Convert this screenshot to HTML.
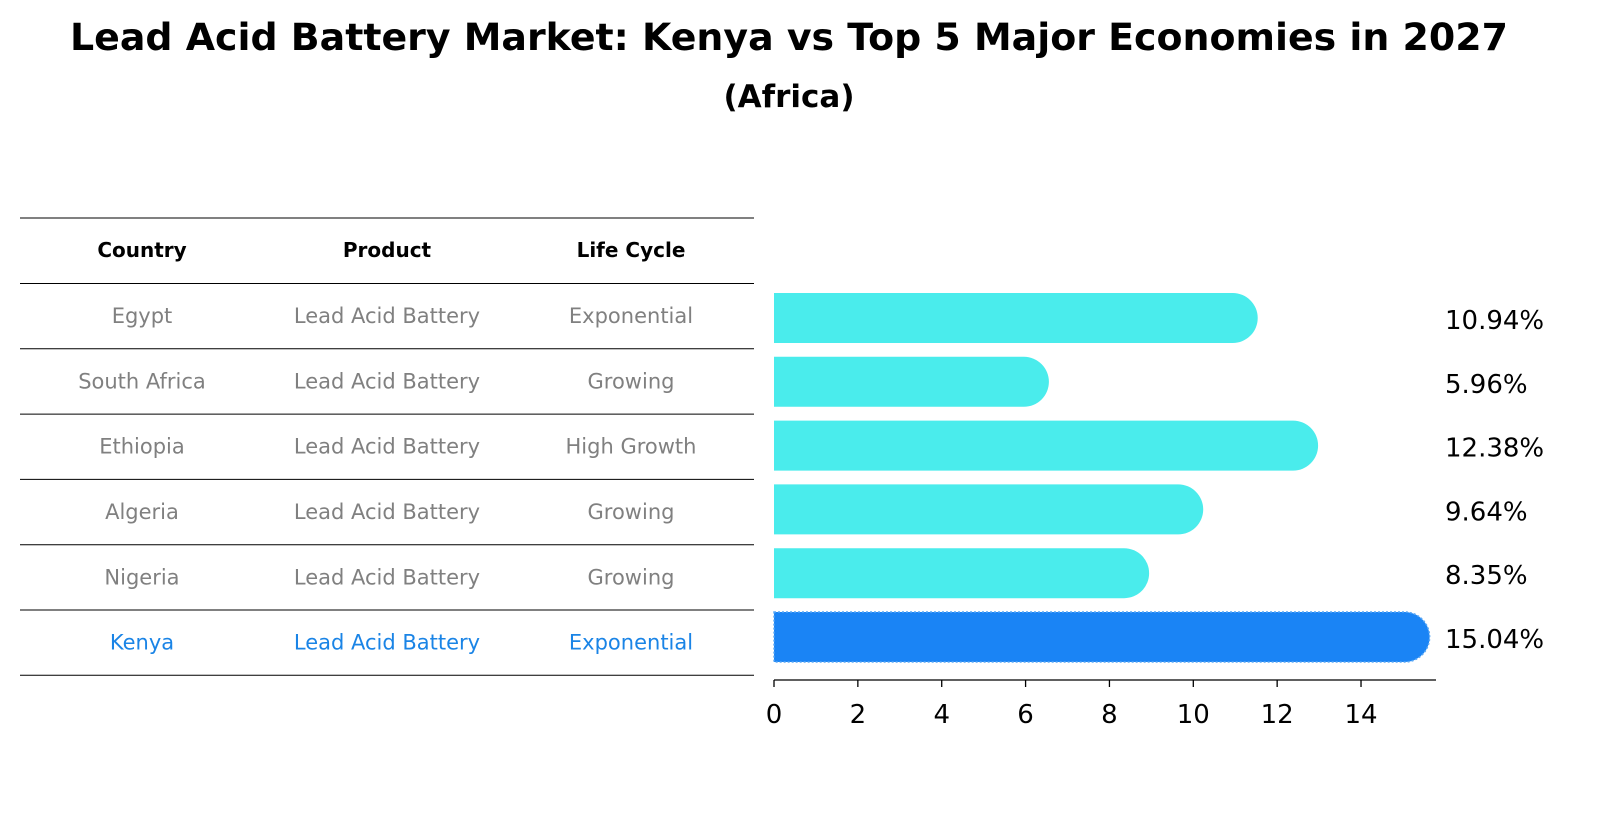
<!DOCTYPE html>
<html><head><meta charset="utf-8">
<style>
body{margin:0;background:#fff;font-family:"Liberation Sans","DejaVu Sans",sans-serif;}
#wrap{position:relative;width:1604px;height:823px;overflow:hidden;}
</style></head>
<body><div id="wrap">
<svg id="svg" width="1604" height="823" xmlns="http://www.w3.org/2000/svg" font-family="DejaVu Sans, Liberation Sans, sans-serif">
<text x="789" y="50" text-anchor="middle" font-size="37" font-weight="bold" textLength="1438" lengthAdjust="spacingAndGlyphs">Lead Acid Battery Market: Kenya vs Top 5 Major Economies in 2027</text>
<text x="789" y="107" text-anchor="middle" font-size="31" font-weight="bold">(Africa)</text>
<g id="table"></g>
<g id="bars"></g>
</svg>
</div>
<script>
const countries=["Egypt","South Africa","Ethiopia","Algeria","Nigeria","Kenya"];
const products=["Lead Acid Battery","Lead Acid Battery","Lead Acid Battery","Lead Acid Battery","Lead Acid Battery","Lead Acid Battery"];
const lifeCycles=["Exponential","Growing","High Growth","Growing","Growing","Exponential"];
const values=[10.94,5.96,12.38,9.64,8.35,15.04];
const ticks=[0,2,4,6,8,10,12,14];
const NS="http://www.w3.org/2000/svg";
const tbl=document.getElementById('table');
const bars=document.getElementById('bars');
function mk(tag,attrs,parent,txt){const e=document.createElementNS(NS,tag);for(const k in attrs)e.setAttribute(k,attrs[k]);if(txt!==undefined)e.textContent=txt;parent.appendChild(e);return e;}
const x0=774, pxPer=41.93;
function xs(v){return x0+v*pxPer;}
const row0=318, rowH=63.8;
function ys(i){return row0+i*rowH;}
const colX=[142,387,631];
function hline(y,name){const l=mk('line',{x1:20,x2:754,y1:y,y2:y,stroke:'#000','stroke-width':1},tbl);}
hline(218,'table-top-rule');
const hdrs=["Country","Product","Life Cycle"];
hdrs.forEach((h,j)=>{const t=mk('text',{x:colX[j],y:257,'text-anchor':'middle','font-size':20,'font-weight':'bold'},tbl,h);});
hline(283.5,'table-header-rule');
for(let i=0;i<countries.length;i++){
  const cy=283.5+65.3*i+32.6;
  const col=i===countries.length-1?'#1a84e6':'#808080';
  [countries[i],products[i],lifeCycles[i]].forEach((s,j)=>{const t=mk('text',{x:colX[j],y:cy+7,'text-anchor':'middle','font-size':21,fill:col},tbl,s);});
  hline(283.5+65.3*(i+1),'table-row-rule');
}
const bh=50, r=25;
values.forEach((v,i)=>{
  const y=ys(i)-bh/2, w=xs(v)-x0;
  const col=i===values.length-1?'#1a84f5':'#4aecec';
  const p=mk('path',{d:`M${x0},${y} H${x0+w} A${r},${r} 0 0 1 ${x0+w},${y+bh} H${x0} Z`,fill:col},bars);
  if(i===values.length-1){p.setAttribute('stroke','#5aa8f5');p.setAttribute('stroke-dasharray','2,2');p.setAttribute('stroke-width','1.5');}
  
  
  const t=mk('text',{x:1445,y:ys(i)+11,'font-size':26},bars,v.toFixed(2)+'%');
  
  
});
const ax=mk('line',{x1:x0,x2:1436,y1:680,y2:680,stroke:'#000','stroke-width':1.3},bars);


ticks.forEach(tv=>{
  const l=mk('line',{x1:xs(tv),x2:xs(tv),y1:680,y2:687,stroke:'#000','stroke-width':1.3},bars);
  
  
  const t=mk('text',{x:xs(tv),y:723,'text-anchor':'middle','font-size':26},bars,String(tv));
  
  
});
</script>
</body></html>
